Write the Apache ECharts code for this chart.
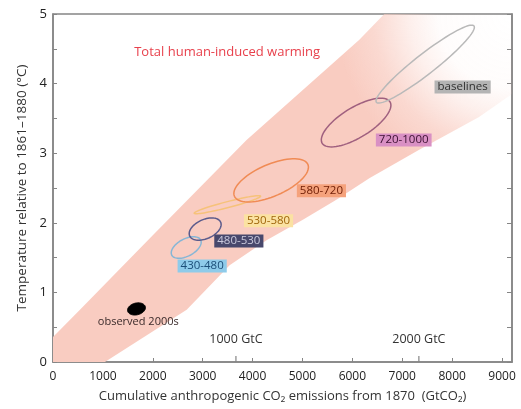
<!DOCTYPE html>
<html><head><meta charset="utf-8">
<script src="https://cdn.jsdelivr.net/npm/echarts@6/dist/echarts.min.js"></script>
<style>html,body{margin:0;padding:0;background:#fff}#c{width:521px;height:409px}</style>
</head><body><div id="c"></div>
<script>
// ---- data ----
const scenarioNames = ['430-480', '480-530', '530-580', '580-720', '720-1000', 'baselines'];
const emisMin = [2370, 2730, 2830, 3625, 5378, 6474];   // GtCO2
const emisMax = [2970, 3370, 4160, 5120, 6773, 8446];
const tempMin = [1.49, 1.75, 2.13, 2.30, 3.09, 3.72];   // °C
const tempMax = [1.80, 2.07, 2.39, 2.92, 3.79, 4.84];
const tempEmisCorr = [0.49, 0.41, 0.94, 0.61, 0.71, 0.945];

const observedEmis = [1494, 1853];
const observedTemp = [0.675, 0.85];
const observedCorr = 0.2;

// plume (total human-induced warming) edges
const plumeUpperX = [0, 540, 2000, 3880, 6140, 6640, 9200];
const plumeUpperY = [0.36, 0.75, 1.82, 3.19, 4.63, 5.0, 5.0];
const plumeLowerX = [0, 1040, 2680, 3540, 4280, 5000, 5680, 6340, 7340, 8540, 9200];
const plumeLowerY = [0, 0, 0.75, 1.39, 1.75, 2.04, 2.33, 2.64, 3.05, 3.52, 3.85];

const gtcMarks = [1000, 2000];           // GtC
const co2PerC = 44 / 12;
const yTickLabels = ['0', '1', '2', '3', '4', '5'];

// ---- styling / layout ----
const ellipseColors = ['#86b6d6', '#5b5b8c', '#f6c27a', '#f08b55', '#a0607f', '#b9b9b9'];
const labelBg = ['#8ecbea', '#48486c', '#fbe2a2', '#f5a27c', '#d990c4', '#b4b4b4'];
const labelFg = ['#1c4e78', '#c9c9dc', '#a0660c', '#6e1c04', '#3c1032', '#303030'];
const labelAnchor = [[2990, 1.38], [3725, 1.74], [4320, 2.03], [5380, 2.46], [7030, 3.19], [8210, 3.95]];
const FONT = '"Open Sans", "Noto Sans", sans-serif';

function ellipsePoints(x0, x1, y0, y1, r) {
  const cx = (x0 + x1) / 2, sx = (x1 - x0) / 2, cy = (y0 + y1) / 2, sy = (y1 - y0) / 2;
  const phi = Math.acos(r);
  const pts = [];
  for (let k = 0; k < 72; k++) {
    const t = k / 72 * Math.PI * 2;
    pts.push([cx + sx * Math.cos(t), cy + sy * Math.cos(t - phi)]);
  }
  return pts;
}

const chart = echarts.init(document.getElementById('c'), null, { renderer: 'canvas' });
const axisColor = '#858585';

const option = {
  animation: false,
  grid: { left: 53, right: 9, top: 14, bottom: 47, show: true, borderColor: axisColor, borderWidth: 1.5, backgroundColor: 'transparent' },
  xAxis: {
    type: 'value', min: 0, max: 9200, interval: 1000,
    name: 'Cumulative anthropogenic CO\u2082 emissions from 1870  (GtCO\u2082)',
    nameLocation: 'middle', nameGap: 28,
    nameTextStyle: { fontFamily: FONT, fontSize: 13, color: '#333' },
    axisLine: { lineStyle: { color: axisColor, width: 1.5 } },
    axisTick: { inside: true, length: 4, lineStyle: { color: axisColor } },
    axisLabel: { showMaxLabel: false, margin: 9, fontFamily: FONT, fontSize: 12, color: '#222', formatter: v => String(v) },
    splitLine: { show: false }
  },
  yAxis: [{
    type: 'value', min: 0, max: 5, interval: 0.5,
    name: 'Temperature relative to 1861\u20131880 (\u00b0C)',
    nameLocation: 'middle', nameGap: 24,
    nameTextStyle: { fontFamily: FONT, fontSize: 13.5, color: '#333' },
    axisLine: { lineStyle: { color: axisColor, width: 1.5 } },
    axisTick: { inside: true, length: 4, lineStyle: { color: axisColor } },
    axisLabel: {
      margin: 6, fontFamily: FONT, fontSize: 13, color: '#222',
      formatter: v => (Number.isInteger(v) ? yTickLabels[v] : '')
    },
    splitLine: { show: false }
  }, {
    type: 'value', min: 0, max: 5, interval: 0.5, position: 'right',
    axisLine: { show: true, lineStyle: { color: axisColor, width: 1.5 } },
    axisTick: { inside: true, length: 5, lineStyle: { color: axisColor } },
    axisLabel: { show: false }, splitLine: { show: false }
  }],
  series: [
    {
      type: 'custom', clip: true, data: [0],
      renderItem: (params, api) => {
        const pts = [];
        plumeUpperX.forEach((x, i) => pts.push(api.coord([x, plumeUpperY[i]])));
        for (let i = plumeLowerX.length - 1; i >= 0; i--) pts.push(api.coord([plumeLowerX[i], plumeLowerY[i]]));
        const corner = api.coord([9200, 5]);
        return {
          type: 'polygon', shape: { points: pts },
          style: {
            fill: new echarts.graphic.RadialGradient(corner[0], corner[1], 185, [
              { offset: 0, color: 'rgba(249,204,193,0)' },
              { offset: 0.4, color: 'rgba(249,204,193,0.05)' },
              { offset: 0.55, color: 'rgba(249,204,193,0.3)' },
              { offset: 0.75, color: 'rgba(249,204,193,0.75)' },
              { offset: 0.95, color: 'rgba(249,204,193,1)' },
              { offset: 1, color: 'rgba(249,204,193,1)' }
            ], true)
          }
        };
      }
    },
    {
      type: 'custom', clip: true, data: scenarioNames.map((n, i) => i),
      renderItem: (params, api) => {
        const i = params.dataIndex;
        const pts = ellipsePoints(emisMin[i], emisMax[i], tempMin[i], tempMax[i], tempEmisCorr[i]).map(p => api.coord(p));
        return { type: 'polygon', shape: { points: pts }, style: { fill: 'none', stroke: ellipseColors[i], lineWidth: 1.5 } };
      }
    },
    {
      type: 'custom', clip: true, data: [0],
      renderItem: (params, api) => {
        const pts = ellipsePoints(observedEmis[0], observedEmis[1], observedTemp[0], observedTemp[1], observedCorr).map(p => api.coord(p));
        return { type: 'polygon', shape: { points: pts }, style: { fill: '#000', stroke: '#000' } };
      }
    },
    {
      type: 'custom', clip: false, data: scenarioNames.map((n, i) => i),
      renderItem: (params, api) => {
        const i = params.dataIndex;
        const p = api.coord(labelAnchor[i]);
        return {
          type: 'text', x: p[0], y: p[1],
          style: {
            text: scenarioNames[i], fill: labelFg[i], font: '11.5px ' + FONT,
            align: 'center', verticalAlign: 'middle',
            backgroundColor: labelBg[i], padding: [1, 3, 0, 3]
          }
        };
      }
    },
    {
      type: 'custom', clip: false, data: [0],
      renderItem: (params, api) => {
        const children = [];
        const t = api.coord([3490, 4.45]);
        children.push({ type: 'text', x: t[0], y: t[1], style: { text: 'Total human-induced warming', fill: '#e8414c', font: '13px ' + FONT, align: 'center', verticalAlign: 'middle' } });
        const o = api.coord([1710, 0.575]);
        children.push({ type: 'text', x: o[0], y: o[1], style: { text: 'observed 2000s', fill: '#3a2a2a', font: '11px ' + FONT, align: 'center', verticalAlign: 'middle' } });
        gtcMarks.forEach(g => {
          const x = g * co2PerC;
          const a = api.coord([x, 0]);
          children.push({ type: 'line', shape: { x1: a[0], y1: a[1], x2: a[0], y2: a[1] - 6 }, style: { stroke: axisColor, lineWidth: 1.2 } });
          const b = api.coord([x, 0.32]);
          children.push({ type: 'text', x: b[0], y: b[1], style: { text: g + ' GtC', fill: '#333', font: '12.5px ' + FONT, align: 'center', verticalAlign: 'middle' } });
        });
        return { type: 'group', children };
      }
    }
  ]
};
chart.setOption(option);
</script></body></html>
